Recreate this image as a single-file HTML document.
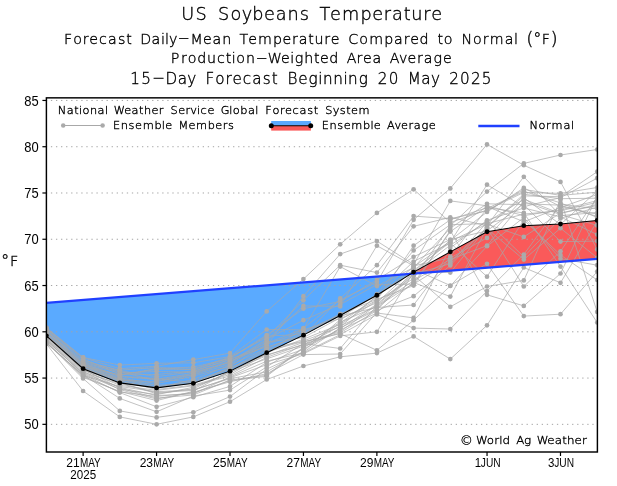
<!DOCTYPE html>
<html lang="en"><head><meta charset="utf-8"><title>US Soybeans Temperature</title>
<style>html,body{margin:0;padding:0;background:#fff}svg{display:block}.h{font-family:"DejaVu Sans Light","DejaVu Sans","Liberation Sans",sans-serif;font-weight:200;fill:#000}.a{font-family:"Liberation Sans",sans-serif;fill:#000}</style></head><body>
<svg width="617" height="486" viewBox="0 0 617 486">
<rect width="617" height="486" fill="#fff"/>
<defs><clipPath id="c"><rect x="46.4" y="97.85" width="551.0" height="354.15"/></clipPath></defs>
<text class="h" text-anchor="middle" transform="scale(1.04,1)" x="180.59 193.28 204.16 215.04 226.82 237.40 247.97 259.15 270.33 281.81 292.69 302.66 312.33 322.61 337.11 351.92 363.10 372.46 382.13 391.50 400.87 410.54 419.90" y="20.4" font-size="17.0" stroke="#000" stroke-width="0.36">US Soybeans Temperature</text>
<text class="h" text-anchor="middle" x="68.06 77.55 85.75 93.69 102.92 112.40 121.63 129.06 136.24 145.72 155.97 162.89 167.00 173.15 183.91 196.73 207.49 216.97 226.71 235.68 243.89 252.60 264.90 277.46 286.94 294.89 303.09 311.04 318.98 327.18 335.13 343.84 353.33 363.58 376.14 388.69 398.43 406.64 414.58 424.06 433.03 440.21 448.16 457.13 466.87 477.37 485.58 496.60 509.16 516.08 522.23 529.92 537.35 545.81 554.01" y="43.7 43.7 43.7 43.7 43.7 43.7 43.7 43.7 43.7 43.7 43.7 43.7 43.7 43.7 42.8 43.7 43.7 43.7 43.7 43.7 43.7 43.7 43.7 43.7 43.7 43.7 43.7 43.7 43.7 43.7 43.7 43.7 43.7 43.7 43.7 43.7 43.7 43.7 43.7 43.7 43.7 43.7 43.7 43.7 43.7 43.7 43.7 43.7 43.7 43.7 43.7 45.4 44.3 43.7 45.4" font-size="14.2" stroke="#000" stroke-width="0.36">Forecast Daily−Mean Temperature Compared to Normal <tspan font-size="18.5">(</tspan><tspan font-size="16.3">°</tspan>F<tspan font-size="18.5">)</tspan></text>
<text class="h" text-anchor="middle" x="175.13 183.83 192.02 201.75 211.48 220.95 228.63 233.75 240.66 250.39 261.91 274.71 285.46 292.12 299.03 308.76 316.69 324.37 333.85 342.81 351.51 359.45 367.38 376.85 385.81 394.52 403.22 411.93 419.86 428.05 437.78 447.25" y="63.4 63.4 63.4 63.4 63.4 63.4 63.4 63.4 63.4 63.4 62.5 63.4 63.4 63.4 63.4 63.4 63.4 63.4 63.4 63.4 63.4 63.4 63.4 63.4 63.4 63.4 63.4 63.4 63.4 63.4 63.4 63.4" font-size="14.2" stroke="#000" stroke-width="0.36">Production−Weighted Area Average</text>
<text class="h" text-anchor="middle" x="135.15 146.05 158.58 171.39 182.29 191.83 200.55 209.81 219.90 228.62 237.06 246.88 256.96 266.77 274.67 282.30 292.38 303.01 313.09 320.45 327.81 338.16 345.52 352.88 363.23 372.77 382.58 393.48 403.29 414.19 425.91 435.44 444.17 453.98 464.88 475.78 486.68" y="84.1 84.1 83.2 84.1 84.1 84.1 84.1 84.1 84.1 84.1 84.1 84.1 84.1 84.1 84.1 84.1 84.1 84.1 84.1 84.1 84.1 84.1 84.1 84.1 84.1 84.1 84.1 84.1 84.1 84.1 84.1 84.1 84.1 84.1 84.1 84.1 84.1" font-size="15.2" stroke="#000" stroke-width="0.36">15−Day Forecast Beginning 20 May 2025</text>
<g clip-path="url(#c)">
<polygon fill="#5aaaff" points="46.40,302.83 46.40,335.78 83.12,368.72 119.84,382.88 156.56,387.88 193.28,383.34 230.00,371.13 266.72,352.71 303.44,335.13 340.16,315.42 376.88,295.25 410.23,274.23"/>
<polygon fill="#fa5a5a" points="410.23,274.23 413.60,272.11 450.32,251.85 487.04,231.76 523.76,225.66 560.48,223.99 597.20,220.47 597.20,258.97"/>
<line x1="46.5" x2="597.4" y1="424.34" y2="424.34" stroke="#a4a4a4" stroke-width="1" stroke-dasharray="1.3 3.76" stroke-dashoffset="0.65"/>
<line x1="46.5" x2="597.4" y1="378.07" y2="378.07" stroke="#a4a4a4" stroke-width="1" stroke-dasharray="1.3 3.76" stroke-dashoffset="0.65"/>
<line x1="46.5" x2="597.4" y1="331.80" y2="331.80" stroke="#a4a4a4" stroke-width="1" stroke-dasharray="1.3 3.76" stroke-dashoffset="0.65"/>
<line x1="46.5" x2="597.4" y1="285.53" y2="285.53" stroke="#a4a4a4" stroke-width="1" stroke-dasharray="1.3 3.76" stroke-dashoffset="0.65"/>
<line x1="46.5" x2="597.4" y1="239.26" y2="239.26" stroke="#a4a4a4" stroke-width="1" stroke-dasharray="1.3 3.76" stroke-dashoffset="0.65"/>
<line x1="46.5" x2="597.4" y1="192.99" y2="192.99" stroke="#a4a4a4" stroke-width="1" stroke-dasharray="1.3 3.76" stroke-dashoffset="0.65"/>
<line x1="46.5" x2="597.4" y1="146.72" y2="146.72" stroke="#a4a4a4" stroke-width="1" stroke-dasharray="1.3 3.76" stroke-dashoffset="0.65"/>
<line x1="46.5" x2="597.4" y1="100.45" y2="100.45" stroke="#a4a4a4" stroke-width="1" stroke-dasharray="1.3 3.76" stroke-dashoffset="0.65"/>
<g fill="none" stroke="#a8a8a8" stroke-width="0.7" stroke-linejoin="round">
<polyline points="46.4,331.9 83.1,364.2 119.8,375.3 156.6,368.5 193.3,367.1 230.0,358.5 266.7,336.0 303.4,334.5 340.2,315.8 376.9,307.5 413.6,305.0 450.3,256.5 487.0,208.5 523.8,191.3 560.5,202.9 597.2,217.4"/>
<polyline points="46.4,336.6 83.1,363.3 119.8,372.9 156.6,371.5 193.3,372.2 230.0,362.7 266.7,340.4 303.4,305.9 340.2,306.4 376.9,245.7 413.6,265.9 450.3,257.9 487.0,237.9 523.8,197.8 560.5,224.5 597.2,191.0"/>
<polyline points="46.4,333.4 83.1,366.8 119.8,374.8 156.6,369.4 193.3,369.1 230.0,357.1 266.7,337.7 303.4,300.3 340.2,265.2 376.9,272.6 413.6,226.3 450.3,217.4 487.0,225.7 523.8,176.8 560.5,215.6 597.2,212.5"/>
<polyline points="46.4,341.1 83.1,377.4 119.8,391.4 156.6,400.6 193.3,391.3 230.0,370.8 266.7,355.7 303.4,342.3 340.2,331.8 376.9,304.9 413.6,275.2 450.3,306.8 487.0,286.5 523.8,280.4 560.5,199.8 597.2,311.9"/>
<polyline points="46.4,342.9 83.1,375.5 119.8,386.5 156.6,391.7 193.3,389.7 230.0,378.7 266.7,371.9 303.4,351.3 340.2,319.6 376.9,300.2 413.6,245.7 450.3,219.7 487.0,207.7 523.8,212.9 560.5,266.6 597.2,322.5"/>
<polyline points="46.4,331.3 83.1,361.6 119.8,370.2 156.6,367.5 193.3,369.8 230.0,357.8 266.7,335.1 303.4,308.7 340.2,301.5 376.9,279.9 413.6,256.8 450.3,239.5 487.0,230.9 523.8,203.7 560.5,205.2 597.2,216.4"/>
<polyline points="46.4,332.3 83.1,365.5 119.8,378.1 156.6,383.5 193.3,376.2 230.0,366.3 266.7,344.4 303.4,331.5 340.2,314.6 376.9,295.0 413.6,270.5 450.3,242.2 487.0,184.7 523.8,206.7 560.5,197.6 597.2,178.2"/>
<polyline points="46.4,335.8 83.1,369.1 119.8,388.1 156.6,398.0 193.3,395.0 230.0,380.0 266.7,375.3 303.4,347.2 340.2,329.9 376.9,313.0 413.6,317.9 450.3,247.9 487.0,220.3 523.8,208.0 560.5,216.9 597.2,234.6"/>
<polyline points="46.4,329.6 83.1,362.4 119.8,371.6 156.6,380.7 193.3,374.2 230.0,362.0 266.7,339.3 303.4,320.2 340.2,304.5 376.9,284.7 413.6,284.1 450.3,261.4 487.0,228.5 523.8,259.6 560.5,228.2 597.2,257.8"/>
<polyline points="46.4,340.6 83.1,373.0 119.8,387.4 156.6,395.5 193.3,393.9 230.0,377.0 266.7,361.2 303.4,352.9 340.2,334.6 376.9,314.5 413.6,328.1 450.3,329.0 487.0,291.1 523.8,254.5 560.5,204.2 597.2,208.8"/>
<polyline points="46.4,338.5 83.1,371.2 119.8,389.7 156.6,399.0 193.3,392.2 230.0,381.8 266.7,373.7 303.4,354.6 340.2,354.0 376.9,312.4 413.6,282.5 450.3,296.6 487.0,228.0 523.8,286.5 560.5,251.3 597.2,197.2"/>
<polyline points="46.4,330.5 83.1,363.8 119.8,376.0 156.6,378.5 193.3,382.6 230.0,369.5 266.7,351.1 303.4,341.6 340.2,333.7 376.9,350.3 413.6,320.2 450.3,286.0 487.0,246.2 523.8,217.5 560.5,258.7 597.2,265.2"/>
<polyline points="46.4,327.6 83.1,357.4 119.8,365.1 156.6,363.3 193.3,362.8 230.0,356.6 266.7,329.5 303.4,329.8 340.2,318.6 376.9,302.7 413.6,269.2 450.3,285.5 487.0,263.8 523.8,316.1 560.5,314.2 597.2,271.6"/>
<polyline points="46.4,335.5 83.1,367.5 119.8,380.7 156.6,389.5 193.3,385.1 230.0,374.5 266.7,353.7 303.4,328.1 340.2,299.9 376.9,282.1 413.6,219.8 450.3,188.4 487.0,144.4 523.8,165.2 560.5,181.9 597.2,249.4"/>
<polyline points="46.4,328.2 83.1,357.7 119.8,368.7 156.6,366.2 193.3,359.6 230.0,353.1 266.7,311.4 303.4,279.1 340.2,244.3 376.9,212.9 413.6,189.3 450.3,222.5 487.0,210.0 523.8,192.4 560.5,193.4 597.2,187.5"/>
<polyline points="46.4,338.9 83.1,372.3 119.8,383.6 156.6,392.7 193.3,390.4 230.0,377.8 266.7,364.7 303.4,353.8 340.2,335.9 376.9,331.8 413.6,272.2 450.3,240.3 487.0,212.0 523.8,187.9 560.5,206.5 597.2,214.1"/>
<polyline points="46.4,334.1 83.1,365.9 119.8,379.0 156.6,385.3 193.3,383.7 230.0,367.2 266.7,354.7 303.4,345.0 340.2,322.2 376.9,306.4 413.6,283.3 450.3,231.6 487.0,206.5 523.8,221.8 560.5,207.5 597.2,194.5"/>
<polyline points="46.4,337.7 83.1,369.9 119.8,382.3 156.6,393.8 193.3,388.8 230.0,371.6 266.7,358.9 303.4,346.1 340.2,325.9 376.9,309.0 413.6,271.5 450.3,272.6 487.0,227.3 523.8,195.9 560.5,196.7 597.2,171.7"/>
<polyline points="46.4,343.9 83.1,391.0 119.8,416.9 156.6,424.3 193.3,416.9 230.0,401.7 266.7,379.5 303.4,366.0 340.2,356.8 376.9,353.1 413.6,336.4 450.3,359.1 487.0,325.3 523.8,267.5 560.5,282.8 597.2,221.1"/>
<polyline points="46.4,334.9 83.1,366.4 119.8,379.6 156.6,387.0 193.3,381.4 230.0,368.5 266.7,349.4 303.4,341.0 340.2,326.8 376.9,295.6 413.6,261.5 450.3,243.0 487.0,276.7 523.8,220.0 560.5,255.0 597.2,280.0"/>
<polyline points="46.4,330.9 83.1,364.7 119.8,376.7 156.6,379.4 193.3,373.2 230.0,361.3 266.7,345.5 303.4,296.2 340.2,254.1 376.9,241.1 413.6,264.4 450.3,200.9 487.0,205.8 523.8,215.6 560.5,209.9 597.2,200.6"/>
<polyline points="46.4,337.0 83.1,368.6 119.8,380.1 156.6,381.7 193.3,374.9 230.0,364.1 266.7,342.1 303.4,337.6 340.2,317.7 376.9,294.2 413.6,250.4 450.3,224.7 487.0,223.6 523.8,214.1 560.5,210.8 597.2,202.3"/>
<polyline points="46.4,336.2 83.1,370.3 119.8,385.3 156.6,390.4 193.3,385.8 230.0,376.0 266.7,357.3 303.4,344.2 340.2,332.9 376.9,310.4 413.6,296.2 450.3,265.4 487.0,226.8 523.8,194.3 560.5,198.7 597.2,198.2"/>
<polyline points="46.4,328.6 83.1,358.8 119.8,374.2 156.6,374.5 193.3,371.0 230.0,359.8 266.7,343.3 303.4,328.9 340.2,266.6 376.9,286.1 413.6,267.6 450.3,228.1 487.0,203.8 523.8,204.7 560.5,241.6 597.2,241.1"/>
<polyline points="46.4,342.5 83.1,376.2 119.8,392.0 156.6,396.4 193.3,393.0 230.0,380.7 266.7,376.3 303.4,347.9 340.2,323.1 376.9,296.8 413.6,266.9 450.3,241.2 487.0,224.2 523.8,236.9 560.5,212.9 597.2,205.6"/>
<polyline points="46.4,343.4 83.1,374.9 119.8,398.4 156.6,411.8 193.3,396.1 230.0,390.1 266.7,366.9 303.4,343.5 340.2,348.5 376.9,305.5 413.6,280.7 450.3,259.3 487.0,245.7 523.8,201.6 560.5,214.6 597.2,225.4"/>
<polyline points="46.4,339.6 83.1,373.8 119.8,389.2 156.6,394.6 193.3,387.3 230.0,372.7 266.7,352.7 303.4,339.2 340.2,324.4 376.9,300.8 413.6,278.5 450.3,225.7 487.0,191.6 523.8,163.4 560.5,155.0 597.2,149.5"/>
<polyline points="46.4,342.2 83.1,378.5 119.8,410.9 156.6,417.4 193.3,412.3 230.0,396.6 266.7,369.1 303.4,352.2 340.2,327.9 376.9,309.8 413.6,274.1 450.3,263.7 487.0,222.2 523.8,199.2 560.5,213.6 597.2,204.4"/>
<polyline points="46.4,328.9 83.1,360.2 119.8,370.7 156.6,376.7 193.3,371.6 230.0,359.1 266.7,346.9 303.4,336.4 340.2,298.4 376.9,265.2 413.6,216.1 450.3,218.7 487.0,210.9 523.8,189.4 560.5,195.4 597.2,192.2"/>
<polyline points="46.4,334.5 83.1,368.0 119.8,381.3 156.6,388.0 193.3,379.4 230.0,365.2 266.7,348.5 303.4,333.8 340.2,313.8 376.9,299.4 413.6,285.6 450.3,230.5 487.0,294.8 523.8,305.9 560.5,273.5 597.2,195.9"/>
<polyline points="46.4,340.1 83.1,374.4 119.8,392.6 156.6,406.8 193.3,397.2 230.0,386.4 266.7,362.3 303.4,349.3 340.2,328.6 376.9,304.1 413.6,273.3 450.3,245.2 487.0,221.4 523.8,256.8 560.5,218.4 597.2,207.0"/>
</g>
<g fill="#aaaaaa">
<circle cx="46.4" cy="331.9" r="2.35"/>
<circle cx="83.1" cy="364.2" r="2.35"/>
<circle cx="119.8" cy="375.3" r="2.35"/>
<circle cx="156.6" cy="368.5" r="2.35"/>
<circle cx="193.3" cy="367.1" r="2.35"/>
<circle cx="230.0" cy="358.5" r="2.35"/>
<circle cx="266.7" cy="336.0" r="2.35"/>
<circle cx="303.4" cy="334.5" r="2.35"/>
<circle cx="340.2" cy="315.8" r="2.35"/>
<circle cx="376.9" cy="307.5" r="2.35"/>
<circle cx="413.6" cy="305.0" r="2.35"/>
<circle cx="450.3" cy="256.5" r="2.35"/>
<circle cx="487.0" cy="208.5" r="2.35"/>
<circle cx="523.8" cy="191.3" r="2.35"/>
<circle cx="560.5" cy="202.9" r="2.35"/>
<circle cx="597.2" cy="217.4" r="2.35"/>
<circle cx="46.4" cy="336.6" r="2.35"/>
<circle cx="83.1" cy="363.3" r="2.35"/>
<circle cx="119.8" cy="372.9" r="2.35"/>
<circle cx="156.6" cy="371.5" r="2.35"/>
<circle cx="193.3" cy="372.2" r="2.35"/>
<circle cx="230.0" cy="362.7" r="2.35"/>
<circle cx="266.7" cy="340.4" r="2.35"/>
<circle cx="303.4" cy="305.9" r="2.35"/>
<circle cx="340.2" cy="306.4" r="2.35"/>
<circle cx="376.9" cy="245.7" r="2.35"/>
<circle cx="413.6" cy="265.9" r="2.35"/>
<circle cx="450.3" cy="257.9" r="2.35"/>
<circle cx="487.0" cy="237.9" r="2.35"/>
<circle cx="523.8" cy="197.8" r="2.35"/>
<circle cx="560.5" cy="224.5" r="2.35"/>
<circle cx="597.2" cy="191.0" r="2.35"/>
<circle cx="46.4" cy="333.4" r="2.35"/>
<circle cx="83.1" cy="366.8" r="2.35"/>
<circle cx="119.8" cy="374.8" r="2.35"/>
<circle cx="156.6" cy="369.4" r="2.35"/>
<circle cx="193.3" cy="369.1" r="2.35"/>
<circle cx="230.0" cy="357.1" r="2.35"/>
<circle cx="266.7" cy="337.7" r="2.35"/>
<circle cx="303.4" cy="300.3" r="2.35"/>
<circle cx="340.2" cy="265.2" r="2.35"/>
<circle cx="376.9" cy="272.6" r="2.35"/>
<circle cx="413.6" cy="226.3" r="2.35"/>
<circle cx="450.3" cy="217.4" r="2.35"/>
<circle cx="487.0" cy="225.7" r="2.35"/>
<circle cx="523.8" cy="176.8" r="2.35"/>
<circle cx="560.5" cy="215.6" r="2.35"/>
<circle cx="597.2" cy="212.5" r="2.35"/>
<circle cx="46.4" cy="341.1" r="2.35"/>
<circle cx="83.1" cy="377.4" r="2.35"/>
<circle cx="119.8" cy="391.4" r="2.35"/>
<circle cx="156.6" cy="400.6" r="2.35"/>
<circle cx="193.3" cy="391.3" r="2.35"/>
<circle cx="230.0" cy="370.8" r="2.35"/>
<circle cx="266.7" cy="355.7" r="2.35"/>
<circle cx="303.4" cy="342.3" r="2.35"/>
<circle cx="340.2" cy="331.8" r="2.35"/>
<circle cx="376.9" cy="304.9" r="2.35"/>
<circle cx="413.6" cy="275.2" r="2.35"/>
<circle cx="450.3" cy="306.8" r="2.35"/>
<circle cx="487.0" cy="286.5" r="2.35"/>
<circle cx="523.8" cy="280.4" r="2.35"/>
<circle cx="560.5" cy="199.8" r="2.35"/>
<circle cx="597.2" cy="311.9" r="2.35"/>
<circle cx="46.4" cy="342.9" r="2.35"/>
<circle cx="83.1" cy="375.5" r="2.35"/>
<circle cx="119.8" cy="386.5" r="2.35"/>
<circle cx="156.6" cy="391.7" r="2.35"/>
<circle cx="193.3" cy="389.7" r="2.35"/>
<circle cx="230.0" cy="378.7" r="2.35"/>
<circle cx="266.7" cy="371.9" r="2.35"/>
<circle cx="303.4" cy="351.3" r="2.35"/>
<circle cx="340.2" cy="319.6" r="2.35"/>
<circle cx="376.9" cy="300.2" r="2.35"/>
<circle cx="413.6" cy="245.7" r="2.35"/>
<circle cx="450.3" cy="219.7" r="2.35"/>
<circle cx="487.0" cy="207.7" r="2.35"/>
<circle cx="523.8" cy="212.9" r="2.35"/>
<circle cx="560.5" cy="266.6" r="2.35"/>
<circle cx="597.2" cy="322.5" r="2.35"/>
<circle cx="46.4" cy="331.3" r="2.35"/>
<circle cx="83.1" cy="361.6" r="2.35"/>
<circle cx="119.8" cy="370.2" r="2.35"/>
<circle cx="156.6" cy="367.5" r="2.35"/>
<circle cx="193.3" cy="369.8" r="2.35"/>
<circle cx="230.0" cy="357.8" r="2.35"/>
<circle cx="266.7" cy="335.1" r="2.35"/>
<circle cx="303.4" cy="308.7" r="2.35"/>
<circle cx="340.2" cy="301.5" r="2.35"/>
<circle cx="376.9" cy="279.9" r="2.35"/>
<circle cx="413.6" cy="256.8" r="2.35"/>
<circle cx="450.3" cy="239.5" r="2.35"/>
<circle cx="487.0" cy="230.9" r="2.35"/>
<circle cx="523.8" cy="203.7" r="2.35"/>
<circle cx="560.5" cy="205.2" r="2.35"/>
<circle cx="597.2" cy="216.4" r="2.35"/>
<circle cx="46.4" cy="332.3" r="2.35"/>
<circle cx="83.1" cy="365.5" r="2.35"/>
<circle cx="119.8" cy="378.1" r="2.35"/>
<circle cx="156.6" cy="383.5" r="2.35"/>
<circle cx="193.3" cy="376.2" r="2.35"/>
<circle cx="230.0" cy="366.3" r="2.35"/>
<circle cx="266.7" cy="344.4" r="2.35"/>
<circle cx="303.4" cy="331.5" r="2.35"/>
<circle cx="340.2" cy="314.6" r="2.35"/>
<circle cx="376.9" cy="295.0" r="2.35"/>
<circle cx="413.6" cy="270.5" r="2.35"/>
<circle cx="450.3" cy="242.2" r="2.35"/>
<circle cx="487.0" cy="184.7" r="2.35"/>
<circle cx="523.8" cy="206.7" r="2.35"/>
<circle cx="560.5" cy="197.6" r="2.35"/>
<circle cx="597.2" cy="178.2" r="2.35"/>
<circle cx="46.4" cy="335.8" r="2.35"/>
<circle cx="83.1" cy="369.1" r="2.35"/>
<circle cx="119.8" cy="388.1" r="2.35"/>
<circle cx="156.6" cy="398.0" r="2.35"/>
<circle cx="193.3" cy="395.0" r="2.35"/>
<circle cx="230.0" cy="380.0" r="2.35"/>
<circle cx="266.7" cy="375.3" r="2.35"/>
<circle cx="303.4" cy="347.2" r="2.35"/>
<circle cx="340.2" cy="329.9" r="2.35"/>
<circle cx="376.9" cy="313.0" r="2.35"/>
<circle cx="413.6" cy="317.9" r="2.35"/>
<circle cx="450.3" cy="247.9" r="2.35"/>
<circle cx="487.0" cy="220.3" r="2.35"/>
<circle cx="523.8" cy="208.0" r="2.35"/>
<circle cx="560.5" cy="216.9" r="2.35"/>
<circle cx="597.2" cy="234.6" r="2.35"/>
<circle cx="46.4" cy="329.6" r="2.35"/>
<circle cx="83.1" cy="362.4" r="2.35"/>
<circle cx="119.8" cy="371.6" r="2.35"/>
<circle cx="156.6" cy="380.7" r="2.35"/>
<circle cx="193.3" cy="374.2" r="2.35"/>
<circle cx="230.0" cy="362.0" r="2.35"/>
<circle cx="266.7" cy="339.3" r="2.35"/>
<circle cx="303.4" cy="320.2" r="2.35"/>
<circle cx="340.2" cy="304.5" r="2.35"/>
<circle cx="376.9" cy="284.7" r="2.35"/>
<circle cx="413.6" cy="284.1" r="2.35"/>
<circle cx="450.3" cy="261.4" r="2.35"/>
<circle cx="487.0" cy="228.5" r="2.35"/>
<circle cx="523.8" cy="259.6" r="2.35"/>
<circle cx="560.5" cy="228.2" r="2.35"/>
<circle cx="597.2" cy="257.8" r="2.35"/>
<circle cx="46.4" cy="340.6" r="2.35"/>
<circle cx="83.1" cy="373.0" r="2.35"/>
<circle cx="119.8" cy="387.4" r="2.35"/>
<circle cx="156.6" cy="395.5" r="2.35"/>
<circle cx="193.3" cy="393.9" r="2.35"/>
<circle cx="230.0" cy="377.0" r="2.35"/>
<circle cx="266.7" cy="361.2" r="2.35"/>
<circle cx="303.4" cy="352.9" r="2.35"/>
<circle cx="340.2" cy="334.6" r="2.35"/>
<circle cx="376.9" cy="314.5" r="2.35"/>
<circle cx="413.6" cy="328.1" r="2.35"/>
<circle cx="450.3" cy="329.0" r="2.35"/>
<circle cx="487.0" cy="291.1" r="2.35"/>
<circle cx="523.8" cy="254.5" r="2.35"/>
<circle cx="560.5" cy="204.2" r="2.35"/>
<circle cx="597.2" cy="208.8" r="2.35"/>
<circle cx="46.4" cy="338.5" r="2.35"/>
<circle cx="83.1" cy="371.2" r="2.35"/>
<circle cx="119.8" cy="389.7" r="2.35"/>
<circle cx="156.6" cy="399.0" r="2.35"/>
<circle cx="193.3" cy="392.2" r="2.35"/>
<circle cx="230.0" cy="381.8" r="2.35"/>
<circle cx="266.7" cy="373.7" r="2.35"/>
<circle cx="303.4" cy="354.6" r="2.35"/>
<circle cx="340.2" cy="354.0" r="2.35"/>
<circle cx="376.9" cy="312.4" r="2.35"/>
<circle cx="413.6" cy="282.5" r="2.35"/>
<circle cx="450.3" cy="296.6" r="2.35"/>
<circle cx="487.0" cy="228.0" r="2.35"/>
<circle cx="523.8" cy="286.5" r="2.35"/>
<circle cx="560.5" cy="251.3" r="2.35"/>
<circle cx="597.2" cy="197.2" r="2.35"/>
<circle cx="46.4" cy="330.5" r="2.35"/>
<circle cx="83.1" cy="363.8" r="2.35"/>
<circle cx="119.8" cy="376.0" r="2.35"/>
<circle cx="156.6" cy="378.5" r="2.35"/>
<circle cx="193.3" cy="382.6" r="2.35"/>
<circle cx="230.0" cy="369.5" r="2.35"/>
<circle cx="266.7" cy="351.1" r="2.35"/>
<circle cx="303.4" cy="341.6" r="2.35"/>
<circle cx="340.2" cy="333.7" r="2.35"/>
<circle cx="376.9" cy="350.3" r="2.35"/>
<circle cx="413.6" cy="320.2" r="2.35"/>
<circle cx="450.3" cy="286.0" r="2.35"/>
<circle cx="487.0" cy="246.2" r="2.35"/>
<circle cx="523.8" cy="217.5" r="2.35"/>
<circle cx="560.5" cy="258.7" r="2.35"/>
<circle cx="597.2" cy="265.2" r="2.35"/>
<circle cx="46.4" cy="327.6" r="2.35"/>
<circle cx="83.1" cy="357.4" r="2.35"/>
<circle cx="119.8" cy="365.1" r="2.35"/>
<circle cx="156.6" cy="363.3" r="2.35"/>
<circle cx="193.3" cy="362.8" r="2.35"/>
<circle cx="230.0" cy="356.6" r="2.35"/>
<circle cx="266.7" cy="329.5" r="2.35"/>
<circle cx="303.4" cy="329.8" r="2.35"/>
<circle cx="340.2" cy="318.6" r="2.35"/>
<circle cx="376.9" cy="302.7" r="2.35"/>
<circle cx="413.6" cy="269.2" r="2.35"/>
<circle cx="450.3" cy="285.5" r="2.35"/>
<circle cx="487.0" cy="263.8" r="2.35"/>
<circle cx="523.8" cy="316.1" r="2.35"/>
<circle cx="560.5" cy="314.2" r="2.35"/>
<circle cx="597.2" cy="271.6" r="2.35"/>
<circle cx="46.4" cy="335.5" r="2.35"/>
<circle cx="83.1" cy="367.5" r="2.35"/>
<circle cx="119.8" cy="380.7" r="2.35"/>
<circle cx="156.6" cy="389.5" r="2.35"/>
<circle cx="193.3" cy="385.1" r="2.35"/>
<circle cx="230.0" cy="374.5" r="2.35"/>
<circle cx="266.7" cy="353.7" r="2.35"/>
<circle cx="303.4" cy="328.1" r="2.35"/>
<circle cx="340.2" cy="299.9" r="2.35"/>
<circle cx="376.9" cy="282.1" r="2.35"/>
<circle cx="413.6" cy="219.8" r="2.35"/>
<circle cx="450.3" cy="188.4" r="2.35"/>
<circle cx="487.0" cy="144.4" r="2.35"/>
<circle cx="523.8" cy="165.2" r="2.35"/>
<circle cx="560.5" cy="181.9" r="2.35"/>
<circle cx="597.2" cy="249.4" r="2.35"/>
<circle cx="46.4" cy="328.2" r="2.35"/>
<circle cx="83.1" cy="357.7" r="2.35"/>
<circle cx="119.8" cy="368.7" r="2.35"/>
<circle cx="156.6" cy="366.2" r="2.35"/>
<circle cx="193.3" cy="359.6" r="2.35"/>
<circle cx="230.0" cy="353.1" r="2.35"/>
<circle cx="266.7" cy="311.4" r="2.35"/>
<circle cx="303.4" cy="279.1" r="2.35"/>
<circle cx="340.2" cy="244.3" r="2.35"/>
<circle cx="376.9" cy="212.9" r="2.35"/>
<circle cx="413.6" cy="189.3" r="2.35"/>
<circle cx="450.3" cy="222.5" r="2.35"/>
<circle cx="487.0" cy="210.0" r="2.35"/>
<circle cx="523.8" cy="192.4" r="2.35"/>
<circle cx="560.5" cy="193.4" r="2.35"/>
<circle cx="597.2" cy="187.5" r="2.35"/>
<circle cx="46.4" cy="338.9" r="2.35"/>
<circle cx="83.1" cy="372.3" r="2.35"/>
<circle cx="119.8" cy="383.6" r="2.35"/>
<circle cx="156.6" cy="392.7" r="2.35"/>
<circle cx="193.3" cy="390.4" r="2.35"/>
<circle cx="230.0" cy="377.8" r="2.35"/>
<circle cx="266.7" cy="364.7" r="2.35"/>
<circle cx="303.4" cy="353.8" r="2.35"/>
<circle cx="340.2" cy="335.9" r="2.35"/>
<circle cx="376.9" cy="331.8" r="2.35"/>
<circle cx="413.6" cy="272.2" r="2.35"/>
<circle cx="450.3" cy="240.3" r="2.35"/>
<circle cx="487.0" cy="212.0" r="2.35"/>
<circle cx="523.8" cy="187.9" r="2.35"/>
<circle cx="560.5" cy="206.5" r="2.35"/>
<circle cx="597.2" cy="214.1" r="2.35"/>
<circle cx="46.4" cy="334.1" r="2.35"/>
<circle cx="83.1" cy="365.9" r="2.35"/>
<circle cx="119.8" cy="379.0" r="2.35"/>
<circle cx="156.6" cy="385.3" r="2.35"/>
<circle cx="193.3" cy="383.7" r="2.35"/>
<circle cx="230.0" cy="367.2" r="2.35"/>
<circle cx="266.7" cy="354.7" r="2.35"/>
<circle cx="303.4" cy="345.0" r="2.35"/>
<circle cx="340.2" cy="322.2" r="2.35"/>
<circle cx="376.9" cy="306.4" r="2.35"/>
<circle cx="413.6" cy="283.3" r="2.35"/>
<circle cx="450.3" cy="231.6" r="2.35"/>
<circle cx="487.0" cy="206.5" r="2.35"/>
<circle cx="523.8" cy="221.8" r="2.35"/>
<circle cx="560.5" cy="207.5" r="2.35"/>
<circle cx="597.2" cy="194.5" r="2.35"/>
<circle cx="46.4" cy="337.7" r="2.35"/>
<circle cx="83.1" cy="369.9" r="2.35"/>
<circle cx="119.8" cy="382.3" r="2.35"/>
<circle cx="156.6" cy="393.8" r="2.35"/>
<circle cx="193.3" cy="388.8" r="2.35"/>
<circle cx="230.0" cy="371.6" r="2.35"/>
<circle cx="266.7" cy="358.9" r="2.35"/>
<circle cx="303.4" cy="346.1" r="2.35"/>
<circle cx="340.2" cy="325.9" r="2.35"/>
<circle cx="376.9" cy="309.0" r="2.35"/>
<circle cx="413.6" cy="271.5" r="2.35"/>
<circle cx="450.3" cy="272.6" r="2.35"/>
<circle cx="487.0" cy="227.3" r="2.35"/>
<circle cx="523.8" cy="195.9" r="2.35"/>
<circle cx="560.5" cy="196.7" r="2.35"/>
<circle cx="597.2" cy="171.7" r="2.35"/>
<circle cx="46.4" cy="343.9" r="2.35"/>
<circle cx="83.1" cy="391.0" r="2.35"/>
<circle cx="119.8" cy="416.9" r="2.35"/>
<circle cx="156.6" cy="424.3" r="2.35"/>
<circle cx="193.3" cy="416.9" r="2.35"/>
<circle cx="230.0" cy="401.7" r="2.35"/>
<circle cx="266.7" cy="379.5" r="2.35"/>
<circle cx="303.4" cy="366.0" r="2.35"/>
<circle cx="340.2" cy="356.8" r="2.35"/>
<circle cx="376.9" cy="353.1" r="2.35"/>
<circle cx="413.6" cy="336.4" r="2.35"/>
<circle cx="450.3" cy="359.1" r="2.35"/>
<circle cx="487.0" cy="325.3" r="2.35"/>
<circle cx="523.8" cy="267.5" r="2.35"/>
<circle cx="560.5" cy="282.8" r="2.35"/>
<circle cx="597.2" cy="221.1" r="2.35"/>
<circle cx="46.4" cy="334.9" r="2.35"/>
<circle cx="83.1" cy="366.4" r="2.35"/>
<circle cx="119.8" cy="379.6" r="2.35"/>
<circle cx="156.6" cy="387.0" r="2.35"/>
<circle cx="193.3" cy="381.4" r="2.35"/>
<circle cx="230.0" cy="368.5" r="2.35"/>
<circle cx="266.7" cy="349.4" r="2.35"/>
<circle cx="303.4" cy="341.0" r="2.35"/>
<circle cx="340.2" cy="326.8" r="2.35"/>
<circle cx="376.9" cy="295.6" r="2.35"/>
<circle cx="413.6" cy="261.5" r="2.35"/>
<circle cx="450.3" cy="243.0" r="2.35"/>
<circle cx="487.0" cy="276.7" r="2.35"/>
<circle cx="523.8" cy="220.0" r="2.35"/>
<circle cx="560.5" cy="255.0" r="2.35"/>
<circle cx="597.2" cy="280.0" r="2.35"/>
<circle cx="46.4" cy="330.9" r="2.35"/>
<circle cx="83.1" cy="364.7" r="2.35"/>
<circle cx="119.8" cy="376.7" r="2.35"/>
<circle cx="156.6" cy="379.4" r="2.35"/>
<circle cx="193.3" cy="373.2" r="2.35"/>
<circle cx="230.0" cy="361.3" r="2.35"/>
<circle cx="266.7" cy="345.5" r="2.35"/>
<circle cx="303.4" cy="296.2" r="2.35"/>
<circle cx="340.2" cy="254.1" r="2.35"/>
<circle cx="376.9" cy="241.1" r="2.35"/>
<circle cx="413.6" cy="264.4" r="2.35"/>
<circle cx="450.3" cy="200.9" r="2.35"/>
<circle cx="487.0" cy="205.8" r="2.35"/>
<circle cx="523.8" cy="215.6" r="2.35"/>
<circle cx="560.5" cy="209.9" r="2.35"/>
<circle cx="597.2" cy="200.6" r="2.35"/>
<circle cx="46.4" cy="337.0" r="2.35"/>
<circle cx="83.1" cy="368.6" r="2.35"/>
<circle cx="119.8" cy="380.1" r="2.35"/>
<circle cx="156.6" cy="381.7" r="2.35"/>
<circle cx="193.3" cy="374.9" r="2.35"/>
<circle cx="230.0" cy="364.1" r="2.35"/>
<circle cx="266.7" cy="342.1" r="2.35"/>
<circle cx="303.4" cy="337.6" r="2.35"/>
<circle cx="340.2" cy="317.7" r="2.35"/>
<circle cx="376.9" cy="294.2" r="2.35"/>
<circle cx="413.6" cy="250.4" r="2.35"/>
<circle cx="450.3" cy="224.7" r="2.35"/>
<circle cx="487.0" cy="223.6" r="2.35"/>
<circle cx="523.8" cy="214.1" r="2.35"/>
<circle cx="560.5" cy="210.8" r="2.35"/>
<circle cx="597.2" cy="202.3" r="2.35"/>
<circle cx="46.4" cy="336.2" r="2.35"/>
<circle cx="83.1" cy="370.3" r="2.35"/>
<circle cx="119.8" cy="385.3" r="2.35"/>
<circle cx="156.6" cy="390.4" r="2.35"/>
<circle cx="193.3" cy="385.8" r="2.35"/>
<circle cx="230.0" cy="376.0" r="2.35"/>
<circle cx="266.7" cy="357.3" r="2.35"/>
<circle cx="303.4" cy="344.2" r="2.35"/>
<circle cx="340.2" cy="332.9" r="2.35"/>
<circle cx="376.9" cy="310.4" r="2.35"/>
<circle cx="413.6" cy="296.2" r="2.35"/>
<circle cx="450.3" cy="265.4" r="2.35"/>
<circle cx="487.0" cy="226.8" r="2.35"/>
<circle cx="523.8" cy="194.3" r="2.35"/>
<circle cx="560.5" cy="198.7" r="2.35"/>
<circle cx="597.2" cy="198.2" r="2.35"/>
<circle cx="46.4" cy="328.6" r="2.35"/>
<circle cx="83.1" cy="358.8" r="2.35"/>
<circle cx="119.8" cy="374.2" r="2.35"/>
<circle cx="156.6" cy="374.5" r="2.35"/>
<circle cx="193.3" cy="371.0" r="2.35"/>
<circle cx="230.0" cy="359.8" r="2.35"/>
<circle cx="266.7" cy="343.3" r="2.35"/>
<circle cx="303.4" cy="328.9" r="2.35"/>
<circle cx="340.2" cy="266.6" r="2.35"/>
<circle cx="376.9" cy="286.1" r="2.35"/>
<circle cx="413.6" cy="267.6" r="2.35"/>
<circle cx="450.3" cy="228.1" r="2.35"/>
<circle cx="487.0" cy="203.8" r="2.35"/>
<circle cx="523.8" cy="204.7" r="2.35"/>
<circle cx="560.5" cy="241.6" r="2.35"/>
<circle cx="597.2" cy="241.1" r="2.35"/>
<circle cx="46.4" cy="342.5" r="2.35"/>
<circle cx="83.1" cy="376.2" r="2.35"/>
<circle cx="119.8" cy="392.0" r="2.35"/>
<circle cx="156.6" cy="396.4" r="2.35"/>
<circle cx="193.3" cy="393.0" r="2.35"/>
<circle cx="230.0" cy="380.7" r="2.35"/>
<circle cx="266.7" cy="376.3" r="2.35"/>
<circle cx="303.4" cy="347.9" r="2.35"/>
<circle cx="340.2" cy="323.1" r="2.35"/>
<circle cx="376.9" cy="296.8" r="2.35"/>
<circle cx="413.6" cy="266.9" r="2.35"/>
<circle cx="450.3" cy="241.2" r="2.35"/>
<circle cx="487.0" cy="224.2" r="2.35"/>
<circle cx="523.8" cy="236.9" r="2.35"/>
<circle cx="560.5" cy="212.9" r="2.35"/>
<circle cx="597.2" cy="205.6" r="2.35"/>
<circle cx="46.4" cy="343.4" r="2.35"/>
<circle cx="83.1" cy="374.9" r="2.35"/>
<circle cx="119.8" cy="398.4" r="2.35"/>
<circle cx="156.6" cy="411.8" r="2.35"/>
<circle cx="193.3" cy="396.1" r="2.35"/>
<circle cx="230.0" cy="390.1" r="2.35"/>
<circle cx="266.7" cy="366.9" r="2.35"/>
<circle cx="303.4" cy="343.5" r="2.35"/>
<circle cx="340.2" cy="348.5" r="2.35"/>
<circle cx="376.9" cy="305.5" r="2.35"/>
<circle cx="413.6" cy="280.7" r="2.35"/>
<circle cx="450.3" cy="259.3" r="2.35"/>
<circle cx="487.0" cy="245.7" r="2.35"/>
<circle cx="523.8" cy="201.6" r="2.35"/>
<circle cx="560.5" cy="214.6" r="2.35"/>
<circle cx="597.2" cy="225.4" r="2.35"/>
<circle cx="46.4" cy="339.6" r="2.35"/>
<circle cx="83.1" cy="373.8" r="2.35"/>
<circle cx="119.8" cy="389.2" r="2.35"/>
<circle cx="156.6" cy="394.6" r="2.35"/>
<circle cx="193.3" cy="387.3" r="2.35"/>
<circle cx="230.0" cy="372.7" r="2.35"/>
<circle cx="266.7" cy="352.7" r="2.35"/>
<circle cx="303.4" cy="339.2" r="2.35"/>
<circle cx="340.2" cy="324.4" r="2.35"/>
<circle cx="376.9" cy="300.8" r="2.35"/>
<circle cx="413.6" cy="278.5" r="2.35"/>
<circle cx="450.3" cy="225.7" r="2.35"/>
<circle cx="487.0" cy="191.6" r="2.35"/>
<circle cx="523.8" cy="163.4" r="2.35"/>
<circle cx="560.5" cy="155.0" r="2.35"/>
<circle cx="597.2" cy="149.5" r="2.35"/>
<circle cx="46.4" cy="342.2" r="2.35"/>
<circle cx="83.1" cy="378.5" r="2.35"/>
<circle cx="119.8" cy="410.9" r="2.35"/>
<circle cx="156.6" cy="417.4" r="2.35"/>
<circle cx="193.3" cy="412.3" r="2.35"/>
<circle cx="230.0" cy="396.6" r="2.35"/>
<circle cx="266.7" cy="369.1" r="2.35"/>
<circle cx="303.4" cy="352.2" r="2.35"/>
<circle cx="340.2" cy="327.9" r="2.35"/>
<circle cx="376.9" cy="309.8" r="2.35"/>
<circle cx="413.6" cy="274.1" r="2.35"/>
<circle cx="450.3" cy="263.7" r="2.35"/>
<circle cx="487.0" cy="222.2" r="2.35"/>
<circle cx="523.8" cy="199.2" r="2.35"/>
<circle cx="560.5" cy="213.6" r="2.35"/>
<circle cx="597.2" cy="204.4" r="2.35"/>
<circle cx="46.4" cy="328.9" r="2.35"/>
<circle cx="83.1" cy="360.2" r="2.35"/>
<circle cx="119.8" cy="370.7" r="2.35"/>
<circle cx="156.6" cy="376.7" r="2.35"/>
<circle cx="193.3" cy="371.6" r="2.35"/>
<circle cx="230.0" cy="359.1" r="2.35"/>
<circle cx="266.7" cy="346.9" r="2.35"/>
<circle cx="303.4" cy="336.4" r="2.35"/>
<circle cx="340.2" cy="298.4" r="2.35"/>
<circle cx="376.9" cy="265.2" r="2.35"/>
<circle cx="413.6" cy="216.1" r="2.35"/>
<circle cx="450.3" cy="218.7" r="2.35"/>
<circle cx="487.0" cy="210.9" r="2.35"/>
<circle cx="523.8" cy="189.4" r="2.35"/>
<circle cx="560.5" cy="195.4" r="2.35"/>
<circle cx="597.2" cy="192.2" r="2.35"/>
<circle cx="46.4" cy="334.5" r="2.35"/>
<circle cx="83.1" cy="368.0" r="2.35"/>
<circle cx="119.8" cy="381.3" r="2.35"/>
<circle cx="156.6" cy="388.0" r="2.35"/>
<circle cx="193.3" cy="379.4" r="2.35"/>
<circle cx="230.0" cy="365.2" r="2.35"/>
<circle cx="266.7" cy="348.5" r="2.35"/>
<circle cx="303.4" cy="333.8" r="2.35"/>
<circle cx="340.2" cy="313.8" r="2.35"/>
<circle cx="376.9" cy="299.4" r="2.35"/>
<circle cx="413.6" cy="285.6" r="2.35"/>
<circle cx="450.3" cy="230.5" r="2.35"/>
<circle cx="487.0" cy="294.8" r="2.35"/>
<circle cx="523.8" cy="305.9" r="2.35"/>
<circle cx="560.5" cy="273.5" r="2.35"/>
<circle cx="597.2" cy="195.9" r="2.35"/>
<circle cx="46.4" cy="340.1" r="2.35"/>
<circle cx="83.1" cy="374.4" r="2.35"/>
<circle cx="119.8" cy="392.6" r="2.35"/>
<circle cx="156.6" cy="406.8" r="2.35"/>
<circle cx="193.3" cy="397.2" r="2.35"/>
<circle cx="230.0" cy="386.4" r="2.35"/>
<circle cx="266.7" cy="362.3" r="2.35"/>
<circle cx="303.4" cy="349.3" r="2.35"/>
<circle cx="340.2" cy="328.6" r="2.35"/>
<circle cx="376.9" cy="304.1" r="2.35"/>
<circle cx="413.6" cy="273.3" r="2.35"/>
<circle cx="450.3" cy="245.2" r="2.35"/>
<circle cx="487.0" cy="221.4" r="2.35"/>
<circle cx="523.8" cy="256.8" r="2.35"/>
<circle cx="560.5" cy="218.4" r="2.35"/>
<circle cx="597.2" cy="207.0" r="2.35"/>
</g>
<line x1="46.40" y1="302.83" x2="597.20" y2="258.97" stroke="#2040ff" stroke-width="2.3"/>
<polyline fill="none" stroke="#000" stroke-width="1.05" points="46.40,335.78 83.12,368.72 119.84,382.88 156.56,387.88 193.28,383.34 230.00,371.13 266.72,352.71 303.44,335.13 340.16,315.42 376.88,295.25 413.60,272.11 450.32,251.85 487.04,231.76 523.76,225.66 560.48,223.99 597.20,220.47"/>
<circle cx="46.40" cy="335.78" r="2.4" fill="#000"/>
<circle cx="83.12" cy="368.72" r="2.4" fill="#000"/>
<circle cx="119.84" cy="382.88" r="2.4" fill="#000"/>
<circle cx="156.56" cy="387.88" r="2.4" fill="#000"/>
<circle cx="193.28" cy="383.34" r="2.4" fill="#000"/>
<circle cx="230.00" cy="371.13" r="2.4" fill="#000"/>
<circle cx="266.72" cy="352.71" r="2.4" fill="#000"/>
<circle cx="303.44" cy="335.13" r="2.4" fill="#000"/>
<circle cx="340.16" cy="315.42" r="2.4" fill="#000"/>
<circle cx="376.88" cy="295.25" r="2.4" fill="#000"/>
<circle cx="413.60" cy="272.11" r="2.4" fill="#000"/>
<circle cx="450.32" cy="251.85" r="2.4" fill="#000"/>
<circle cx="487.04" cy="231.76" r="2.4" fill="#000"/>
<circle cx="523.76" cy="225.66" r="2.4" fill="#000"/>
<circle cx="560.48" cy="223.99" r="2.4" fill="#000"/>
<circle cx="597.20" cy="220.47" r="2.4" fill="#000"/>
</g>
<text class="h" text-anchor="middle" transform="scale(1.1,1)" x="56.45 63.91 69.55 73.18 78.09 85.00 91.91 96.82 101.18 108.45 116.09 122.82 128.45 134.09 140.82 146.45 151.73 158.27 165.18 170.82 176.09 180.45 185.18 191.73 197.91 204.64 209.91 214.82 221.73 228.64 233.55 237.91 244.09 250.82 256.64 262.27 268.82 275.55 282.09 287.36 292.45 299.00 305.55 311.55 316.82 322.27 331.00" y="114.3" font-size="10.3" stroke="#000" stroke-width="0.34">National Weather Service Global Forecast System</text>
<line x1="63.2" x2="102.6" y1="125.5" y2="125.5" stroke="#a8a8a8" stroke-width="1"/>
<circle cx="63.2" cy="125.5" r="2.25" fill="#aaaaaa"/><circle cx="102.6" cy="125.5" r="2.25" fill="#aaaaaa"/>
<text class="h" text-anchor="middle" transform="scale(1.1,1)" x="106.10 113.03 119.59 125.97 134.72 143.65 148.57 153.31 159.51 166.80 174.45 183.20 192.13 198.88 204.53 210.00" y="129.3" font-size="10.3" stroke="#000" stroke-width="0.34">Ensemble Members</text>
<rect x="271.2" y="121.0" width="39.7" height="4.7" fill="#5aaaff"/><rect x="271.2" y="125.7" width="39.7" height="4.9" fill="#fa5a5a"/>
<line x1="271.2" x2="310.8" y1="125.7" y2="125.7" stroke="#000" stroke-width="1.05"/>
<circle cx="271.3" cy="125.7" r="2.5" fill="#000"/><circle cx="310.7" cy="125.7" r="2.5" fill="#000"/>
<text class="h" text-anchor="middle" transform="scale(1.1,1)" x="295.83 302.75 309.31 315.69 324.44 333.38 338.30 343.04 349.23 355.43 361.63 367.82 373.48 379.31 386.23 392.98" y="129.3" font-size="10.3" stroke="#000" stroke-width="0.34">Ensemble Average</text>
<line x1="478.3" x2="519.5" y1="126" y2="126" stroke="#2040ff" stroke-width="2.3"/>
<text class="h" text-anchor="middle" transform="scale(1.1,1)" x="485.14 492.69 498.58 506.50 515.52 520.49" y="129.3" font-size="10.3" stroke="#000" stroke-width="0.34">Normal</text>
<text class="h" x="460.1" y="445.1" font-size="12.8" text-anchor="start" style="word-spacing:2.56px" stroke="#000" stroke-width="0.34">©</text>
<text class="h" text-anchor="middle" transform="scale(1.1,1)" x="438.00 445.82 451.64 455.45 460.36 466.73 472.91 479.64 486.00 493.27 500.91 507.64 513.27 518.91 525.64 531.27" y="444.5" font-size="10.8" stroke="#000" stroke-width="0.34">World Ag Weather</text>
<rect x="46.4" y="97.85" width="551.0" height="354.15" fill="none" stroke="#000" stroke-width="1.45"/>
<line x1="42.4" x2="46.4" y1="424.34" y2="424.34" stroke="#000" stroke-width="1.2"/>
<text class="a" x="38.6" y="429.44" font-size="14.2" text-anchor="end" textLength="14.4" lengthAdjust="spacingAndGlyphs">50</text>
<line x1="42.4" x2="46.4" y1="378.07" y2="378.07" stroke="#000" stroke-width="1.2"/>
<text class="a" x="38.6" y="383.17" font-size="14.2" text-anchor="end" textLength="14.4" lengthAdjust="spacingAndGlyphs">55</text>
<line x1="42.4" x2="46.4" y1="331.80" y2="331.80" stroke="#000" stroke-width="1.2"/>
<text class="a" x="38.6" y="336.90" font-size="14.2" text-anchor="end" textLength="14.4" lengthAdjust="spacingAndGlyphs">60</text>
<line x1="42.4" x2="46.4" y1="285.53" y2="285.53" stroke="#000" stroke-width="1.2"/>
<text class="a" x="38.6" y="290.63" font-size="14.2" text-anchor="end" textLength="14.4" lengthAdjust="spacingAndGlyphs">65</text>
<line x1="42.4" x2="46.4" y1="239.26" y2="239.26" stroke="#000" stroke-width="1.2"/>
<text class="a" x="38.6" y="244.36" font-size="14.2" text-anchor="end" textLength="14.4" lengthAdjust="spacingAndGlyphs">70</text>
<line x1="42.4" x2="46.4" y1="192.99" y2="192.99" stroke="#000" stroke-width="1.2"/>
<text class="a" x="38.6" y="198.09" font-size="14.2" text-anchor="end" textLength="14.4" lengthAdjust="spacingAndGlyphs">75</text>
<line x1="42.4" x2="46.4" y1="146.72" y2="146.72" stroke="#000" stroke-width="1.2"/>
<text class="a" x="38.6" y="151.82" font-size="14.2" text-anchor="end" textLength="14.4" lengthAdjust="spacingAndGlyphs">80</text>
<line x1="42.4" x2="46.4" y1="100.45" y2="100.45" stroke="#000" stroke-width="1.2"/>
<text class="a" x="38.6" y="105.55" font-size="14.2" text-anchor="end" textLength="14.4" lengthAdjust="spacingAndGlyphs">85</text>
<line x1="83.12" x2="83.12" y1="452.0" y2="456.0" stroke="#000" stroke-width="1.2"/>
<text class="a" y="466.9" font-size="12.3"><tspan x="66.22" textLength="13.4" lengthAdjust="spacingAndGlyphs">21</tspan><tspan x="79.92" textLength="20.8" lengthAdjust="spacingAndGlyphs">MAY</tspan></text>
<line x1="156.56" x2="156.56" y1="452.0" y2="456.0" stroke="#000" stroke-width="1.2"/>
<text class="a" y="466.9" font-size="12.3"><tspan x="139.66" textLength="13.4" lengthAdjust="spacingAndGlyphs">23</tspan><tspan x="153.36" textLength="20.8" lengthAdjust="spacingAndGlyphs">MAY</tspan></text>
<line x1="230.00" x2="230.00" y1="452.0" y2="456.0" stroke="#000" stroke-width="1.2"/>
<text class="a" y="466.9" font-size="12.3"><tspan x="213.10" textLength="13.4" lengthAdjust="spacingAndGlyphs">25</tspan><tspan x="226.80" textLength="20.8" lengthAdjust="spacingAndGlyphs">MAY</tspan></text>
<line x1="303.44" x2="303.44" y1="452.0" y2="456.0" stroke="#000" stroke-width="1.2"/>
<text class="a" y="466.9" font-size="12.3"><tspan x="286.54" textLength="13.4" lengthAdjust="spacingAndGlyphs">27</tspan><tspan x="300.24" textLength="20.8" lengthAdjust="spacingAndGlyphs">MAY</tspan></text>
<line x1="376.88" x2="376.88" y1="452.0" y2="456.0" stroke="#000" stroke-width="1.2"/>
<text class="a" y="466.9" font-size="12.3"><tspan x="359.98" textLength="13.4" lengthAdjust="spacingAndGlyphs">29</tspan><tspan x="373.68" textLength="20.8" lengthAdjust="spacingAndGlyphs">MAY</tspan></text>
<line x1="487.04" x2="487.04" y1="452.0" y2="456.0" stroke="#000" stroke-width="1.2"/>
<text class="a" y="466.9" font-size="12.3"><tspan x="474.64" textLength="6.4" lengthAdjust="spacingAndGlyphs">1</tspan><tspan x="480.84" textLength="19.8" lengthAdjust="spacingAndGlyphs">JUN</tspan></text>
<line x1="560.48" x2="560.48" y1="452.0" y2="456.0" stroke="#000" stroke-width="1.2"/>
<text class="a" y="466.9" font-size="12.3"><tspan x="548.08" textLength="6.4" lengthAdjust="spacingAndGlyphs">3</tspan><tspan x="554.28" textLength="19.8" lengthAdjust="spacingAndGlyphs">JUN</tspan></text>
<text class="a" x="83.2" y="478.7" font-size="12.0" text-anchor="middle" textLength="25.8" lengthAdjust="spacingAndGlyphs">2025</text>
<text class="h" text-anchor="middle" x="5.03 14.10" y="266.3 265.7" font-size="14.4" stroke="#000" stroke-width="0.36"><tspan font-size="16.6">°</tspan>F</text>
</svg></body></html>
